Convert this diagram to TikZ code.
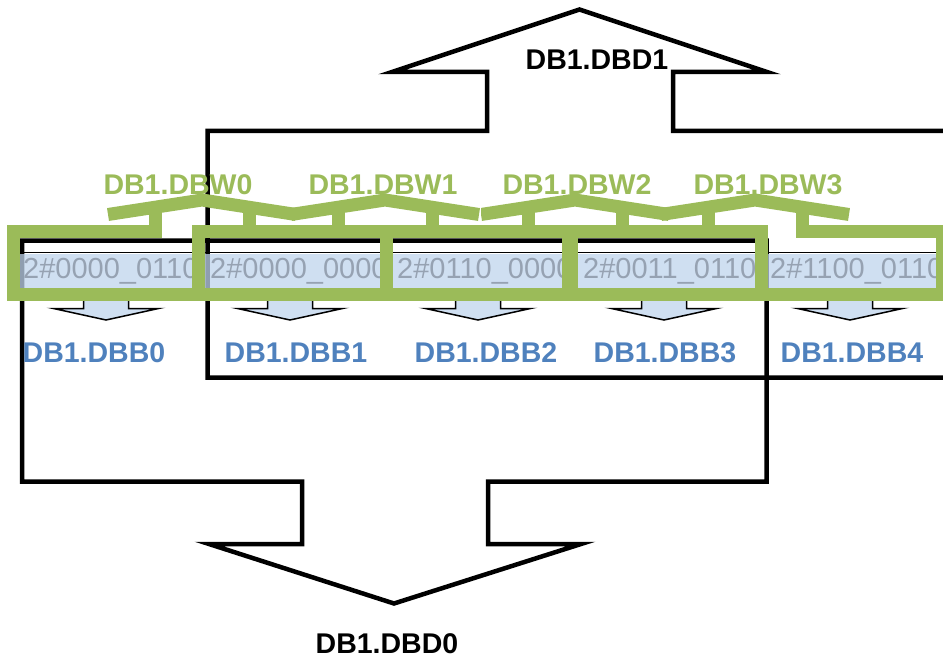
\documentclass[tikz,border=0pt]{standalone}
\usepackage{fontspec}
\setmainfont{Liberation Sans}
\definecolor{wgreen}{HTML}{9BBB59}
\definecolor{bblue}{HTML}{4F81BD}
\definecolor{cellblue}{RGB}{191,212,236}
\definecolor{celltext}{HTML}{96A2B2}
\definecolor{arrowblue}{HTML}{CFDFF1}
\tikzset{
  dbdline/.style={draw=black, line width=4.5pt, line join=miter},
  wordline/.style={draw=wgreen, line width=13pt, line join=miter, line cap=butt},
  smallarrow/.style={draw=black, line width=1.5pt, fill=arrowblue, line join=miter},
  celltxt/.style={text=celltext, font=\fontsize{29}{30}\selectfont, anchor=base west, inner sep=0pt},
  wlabel/.style={text=wgreen, font=\bfseries\fontsize{28.5}{30}\selectfont, anchor=base, inner sep=0pt},
  blabel/.style={text=bblue, font=\bfseries\fontsize{28.5}{30}\selectfont, anchor=base, inner sep=0pt},
  dlabel/.style={text=black, font=\bfseries\fontsize{28.5}{30}\selectfont, anchor=base, inner sep=0pt},
}
\newcommand\wordshape[3]{%
  \draw[wordline] ({#1-94},214.5) -- (#1,200) -- ({#1+94},214.5);
  \draw[wordline] ({#1-47},207) -- ({#1-47},231) -- (#2,231) -- (#2,294.5) -- (#3,294.5) -- (#3,231) -- ({#1+47},231) -- ({#1+47},207);
}
\newcommand\bytearrow[1]{%
  \draw[smallarrow] ({#1-22.5},296) -- ({#1-22.5},308.5) -- ({#1-52.5},308.5) -- (#1,320) -- ({#1+52.5},308.5) -- ({#1+22.5},308.5) -- ({#1+22.5},296);
}
\begin{document}
\begin{tikzpicture}[x=1pt,y=-1pt]
\useasboundingbox (0,0) rectangle (943,658);
% DB1.DBD1 outline (up arrow)
\draw[dbdline] (952,131) -- (673,131) -- (673,72) -- (767,72) -- (579.5,9.5) -- (392,72) -- (487,72) -- (487,131) -- (207.5,131) -- (207.5,377.5) -- (952,377.5);
% DB1.DBD0 outline (down arrow)
\draw[dbdline] (22,240.5) -- (766.5,240.5) -- (766.5,481.5) -- (488,481.5) -- (488,544) -- (581,544) -- (394,603.5) -- (209,544) -- (302,544) -- (302,481.5) -- (22,481.5) -- cycle;
% byte row
\draw[line width=1.3pt] (13,252.5) -- (942,252.5);
\fill[cellblue, fill opacity=0.75] (13,253.5) rectangle (942,296);
\node[celltxt] (t0) at (23,278) {2\#0000\_0110};
\node[celltxt] (t1) at (210,278) {2\#0000\_0000};
\node[celltxt] (t2) at (397,278) {2\#0110\_0000};
\node[celltxt] (t3) at (583,278) {2\#0011\_0110};
\node[celltxt] (t4) at (770,278) {2\#1100\_0110};
% small arrows
\bytearrow{106}
\bytearrow{290}
\bytearrow{478}
\bytearrow{664}
\bytearrow{850}
% word shapes
\wordshape{202}{13.5}{386.5}
\wordshape{385}{198.5}{568.5}
\wordshape{575}{386.5}{761.5}
\wordshape{755}{571.5}{942}
\draw[white, line width=0.8pt] (480,207) -- (480,222);
% labels
\node[wlabel] (w0) at (178,194) {DB1.DBW0};
\node[wlabel] (w1) at (383,194) {DB1.DBW1};
\node[wlabel] (w2) at (577,194) {DB1.DBW2};
\node[wlabel] (w3) at (768,194) {DB1.DBW3};
\node[blabel] (b0) at (94,362) {DB1.DBB0};
\node[blabel] (b1) at (296,362) {DB1.DBB1};
\node[blabel] (b2) at (486,362) {DB1.DBB2};
\node[blabel] (b3) at (665,362) {DB1.DBB3};
\node[blabel] (b4) at (852,362) {DB1.DBB4};
\node[dlabel] (d1) at (597,70) {DB1.DBD1};
\node[dlabel] (d0) at (387,653) {DB1.DBD0};
\end{tikzpicture}
\end{document}
